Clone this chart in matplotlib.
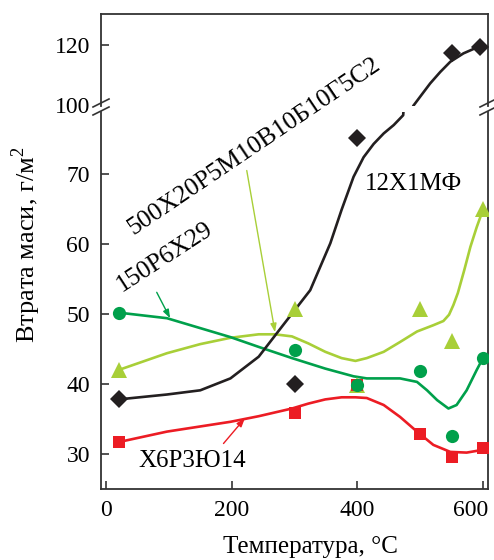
import matplotlib
matplotlib.use("Agg")
import matplotlib.pyplot as plt
from matplotlib.transforms import ScaledTranslation

plt.rcParams["font.family"] = ["Liberation Serif", "DejaVu Serif"]
plt.rcParams["mathtext.fontset"] = "custom"
plt.rcParams["mathtext.rm"] = "Liberation Serif"

# measured points (temperature, mass loss)
t_12x = [20, 300, 400, 550, 595]
m_12x = [37.9, 40.0, 75.2, 117.4, 119.2]
t_500 = [20, 300, 400, 500, 550, 600]
m_500 = [42.0, 50.7, 39.8, 50.7, 46.2, 65.0]
t_150 = [20, 300, 400, 500, 550, 600]
m_150 = [50.2, 44.8, 39.9, 41.9, 32.6, 43.7]
t_x6 = [20, 300, 400, 500, 550, 600]
m_x6 = [31.7, 35.8, 39.9, 32.8, 29.6, 30.8]

# fitted curves
cx_12x = [20, 97, 150, 198, 243, 280, 325, 357, 375, 394, 410, 426, 442, 458, 473,
          489, 503, 516, 532, 548, 569, 593]
cy_12x = [37.8, 38.5, 39.1, 40.8, 43.9, 48.2, 53.4, 60.1, 64.9, 69.6, 72.4, 74.3, 75.8, 77.0, 78.4,
          99.7, 103.6, 107.2, 111.0, 114.4, 117.2, 119.4]
cx_500 = [20, 97, 150, 198, 243, 269, 296, 322, 349, 375, 397, 415, 442, 468, 495, 521, 537, 546, 553, 560, 570, 580, 590, 600]
cy_500 = [42.0, 44.4, 45.7, 46.6, 47.1, 47.1, 46.8, 45.8, 44.6, 43.7, 43.3, 43.7, 44.6, 46.0, 47.5, 48.4, 49.0, 49.9, 51.3, 53.0, 56.2, 59.6, 62.4, 64.9]
cx_150 = [20, 97, 198, 243, 296, 349, 394, 415, 442, 468, 495, 511, 527, 545, 558, 574, 590, 600]
cy_150 = [50.2, 49.4, 46.7, 45.3, 43.7, 42.2, 41.1, 40.8, 40.8, 40.8, 40.3, 39.1, 37.7, 36.5, 37.0, 39.1, 42.0, 43.7]
cx_x6 = [20, 97, 198, 243, 296, 322, 349, 375, 397, 415, 442, 468, 495, 521, 548, 574, 600]
cy_x6 = [31.7, 33.2, 34.6, 35.4, 36.5, 37.2, 37.8, 38.1, 38.1, 38.0, 37.0, 35.3, 33.2, 31.3, 30.3, 30.2, 30.6]

c_black = "#231f20"
c_lime = "#a8cf38"
c_green = "#00a04b"
c_red = "#ec1c24"
spine_c = "#333333"

W, H = 494, 560
fig = plt.figure(figsize=(W / 100, H / 100), dpi=100)
L, R = 101 / W, 488 / W
ax_lo = fig.add_axes([L, 1 - 489 / H, R - L, (489 - 112) / H])
ax_hi = fig.add_axes([L, 1 - 106 / H, R - L, (106 - 14) / H])

for ax in (ax_lo, ax_hi):
    ax.patch.set_visible(False)
    ax.plot(cx_500, cy_500, color=c_lime, lw=1.9, zorder=2)
    ax.plot(cx_150, cy_150, color=c_green, lw=1.9, zorder=2)
    ax.plot(cx_x6, cy_x6, color=c_red, lw=1.9, zorder=2)
    ax.plot(cx_12x, cy_12x, color=c_black, lw=1.9, zorder=2)
    ax.plot(t_500, m_500, "^", color=c_lime, ms=11, mew=0, zorder=3)
    ax.plot(t_12x, m_12x, "D", color=c_black, ms=9, mew=0, zorder=3)
    ax.plot(t_x6, m_x6, "s", color=c_red, ms=8.5, mew=0, zorder=4)
    ax.plot(t_150, m_150, "o", color=c_green, ms=9.5, mew=0, zorder=5)
    ax.set_xlim(-8, 608)
    for s in ax.spines.values():
        s.set_color(spine_c)
        s.set_linewidth(1.3)
    ax.tick_params(direction="in", length=6, width=1.2, color=spine_c,
                   labelsize=17, pad=8, right=False, top=False)

ax_lo.set_ylim(25, 78.86)
ax_hi.set_ylim(99.67, 130.3)
ax_lo.set_yticks([30, 40, 50, 60, 70])
ax_hi.set_yticks([120])
ax_hi.set_yticks([100], minor=True)
ax_hi.set_yticklabels(["100"], minor=True)
ax_hi.tick_params(axis="y", which="minor", length=0, labelsize=17, pad=8)
ax_lo.set_xticks([0, 200, 400, 600])
ax_hi.set_xticks([])
ax_lo.spines["top"].set_visible(False)
ax_hi.spines["bottom"].set_visible(False)

# last x label sits a little left of its tick in the original
lab600 = ax_lo.get_xticklabels()[-1]
lab600.set_transform(lab600.get_transform() + ScaledTranslation(-0.12, 0, fig.dpi_scale_trans))

# axis break marks
for xf in (L, R):
    for yp in (103, 111):
        fig.add_artist(plt.Line2D([xf - 8 / W, xf + 8 / W],
                                  [1 - (yp + 4) / H, 1 - (yp - 4) / H],
                                  color=spine_c, lw=1.2))

# series labels
ax_lo.text(412, 67.7, "12Х1МФ", fontsize=18, ha="left", va="baseline")
ax_lo.text(51.5, 28.2, "Х6Р3Ю14", fontsize=18, ha="left", va="baseline")
ax_lo.text(43.5, 61.3, "500Х20Р5М10В10Б10Г5С2", fontsize=18.5, rotation=34,
           rotation_mode="anchor", ha="left", va="baseline")
ax_lo.text(25, 53.1, "150Р6Х29", fontsize=18.5, rotation=33,
           rotation_mode="anchor", ha="left", va="baseline")

arrow = dict(arrowstyle="-|>,head_length=0.5,head_width=0.18", lw=1.0, shrinkA=0, shrinkB=0)
ax_lo.annotate("", xy=(102, 49.4), xytext=(80.7, 53.1), arrowprops=dict(arrow, color=c_green))
ax_lo.annotate("", xy=(269, 47.4), xytext=(224, 70.5), arrowprops=dict(arrow, color=c_lime))
ax_lo.annotate("", xy=(221, 35.1), xytext=(187, 31.5), arrowprops=dict(arrow, color=c_red))

fig.text(26.5 / W, 1 - 245 / H, "Втрата маси, г/м$^2$", rotation=90, fontsize=19,
         ha="center", va="center")
fig.text(310 / W, 1 - 547 / H, "Температура, °C", fontsize=18, ha="center", va="center")

fig.savefig("out.png", dpi=100)
